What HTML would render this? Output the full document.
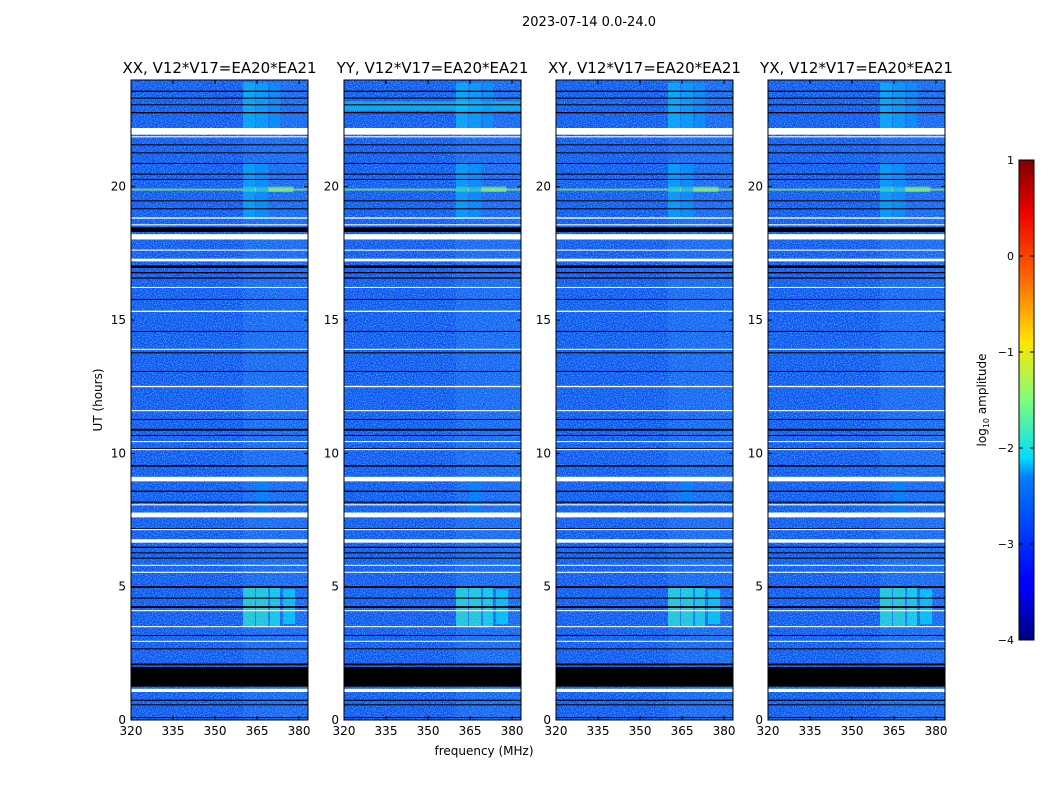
<!DOCTYPE html>
<html><head><meta charset="utf-8"><style>
body{margin:0;background:#fff;font-family:"Liberation Sans","DejaVu Sans",sans-serif}
svg text{font-family:"DejaVu Sans","Liberation Sans",sans-serif}
</style></head><body>
<svg id="fig" width="1050" height="800" xmlns="http://www.w3.org/2000/svg">
<defs>
<filter id="noise" x="0" y="0" width="100%" height="100%">
<feTurbulence type="fractalNoise" baseFrequency="0.9" numOctaves="1" seed="3" result="t"/>
<feColorMatrix in="t" type="matrix" values="0 0 0 0 0.05  0 0 0 0 0.6  0 0 0 0 1  0 0 0 3 -1.3"/>
</filter>
<filter id="noise2" x="0" y="0" width="100%" height="100%">
<feTurbulence type="fractalNoise" baseFrequency="0.8" numOctaves="1" seed="9" result="t"/>
<feColorMatrix in="t" type="matrix" values="0 0 0 0 0  0 0 0 0 0.05  0 0 0 0 0.75  0 0 0 3 -1.4"/>
</filter>
<linearGradient id="jet" x1="0" y1="1" x2="0" y2="0">
<stop offset="0" stop-color="#00007f"/><stop offset="0.11" stop-color="#0000ff"/>
<stop offset="0.125" stop-color="#0000ff"/><stop offset="0.34" stop-color="#0080ff"/>
<stop offset="0.38" stop-color="#00ddff"/><stop offset="0.5" stop-color="#7dff7a"/>
<stop offset="0.62" stop-color="#ffe600"/><stop offset="0.75" stop-color="#ff6a00"/>
<stop offset="0.89" stop-color="#ee0000"/><stop offset="1" stop-color="#7f0000"/>
</linearGradient>
</defs>
<text x="589" y="26" font-size="13" text-anchor="middle">2023-07-14 0.0-24.0</text>
<g id="panels"></g>
<g id="cbar"></g>
</svg>
<script>
const titles=["XX, V12*V17=EA20*EA21","YY, V12*V17=EA20*EA21","XY, V12*V17=EA20*EA21","YX, V12*V17=EA20*EA21"];
const panelLefts=[131,344,556,768];
const xTicks=[320,335,350,365,380];
const yTicks=[0,5,10,15,20];
const freqMin=320, freqMax=383.2, tMin=0, tMax=24;
// flagged (black) rows in hours [start,end]
const blackRows=[[23.55,23.6],[23.3,23.34],[23.05,23.09],[22.75,22.8],[21.55,21.59],[21.25,21.29],[20.85,20.89],[20.45,20.49],[20.25,20.29],[19.45,19.49],[19.15,19.19],[18.3,18.48],[16.95,17.05],[16.75,16.8],[16.55,16.6],[15.75,15.79],[14.55,14.59],[13.75,13.79],[13.05,13.09],[11.25,11.29],[10.85,10.92],[10.65,10.69],[10.15,10.19],[9.5,9.56],[8.55,8.6],[8.15,8.19],[7.15,7.19],[6.45,6.5],[6.25,6.29],[6.05,6.09],[4.95,5.02],[4.55,4.59],[4.2,4.27],[3.15,3.19],[2.65,2.69],[2.05,2.12],[1.95,1.99],[1.25,1.95],[0.72,0.76],[0.55,0.59],[0.08,0.11]];
// white rows in hours [start,end]
const whiteRows=[[21.95,22.2],[21.85,21.89],[18.8,18.85],[18.55,18.59],[18.02,18.22],[17.6,17.64],[17.2,17.3],[16.2,16.24],[15.3,15.35],[13.88,13.92],[12.48,12.53],[11.58,11.62],[10.42,10.46],[10.12,10.16],[8.95,9.12],[8.05,8.09],[7.6,7.78],[7.12,7.16],[6.65,6.78],[5.78,5.82],[5.52,5.56],[4.08,4.12],[3.48,3.52],[2.93,2.97],[1.05,1.17]];
// RFI emission blocks: [tStart,tEnd,fStart,fEnd,log10 amplitude]
const rfiBlocks=[[3.5,5.0,360,364.3,-1.9],[3.5,5.0,364.6,369,-1.9],[3.5,5.0,369.6,373.2,-2.0],[3.6,4.9,374.3,378.6,-2.2],
[19.85,19.93,320,383.2,-1.3],[19.8,20.0,360,378,-1.4],[22.0,23.9,360,364.3,-2.4],[22.0,23.9,364.6,369,-2.5],[22.0,23.9,369.6,373.2,-2.6],
[18.8,20.9,360,364.3,-2.5],[18.8,20.9,364.6,369,-2.6],[7.6,9.0,364.6,369,-2.7]];
// broad elevated band
const bandRange=[360,383.2];
const cbTicks=[1,0,-1,-2,-3,-4];
const cbMin=-4, cbMax=1;

const NS="http://www.w3.org/2000/svg";
const plotTop=80,plotBottom=720,pw=177;
function yScale(t){return plotBottom-(t-tMin)/(tMax-tMin)*(plotBottom-plotTop);}
function jet(v){let s=(v-cbMin)/(cbMax-cbMin);
 const r=Math.max(0,Math.min(1,1.5-Math.abs(4*s-3))),g=Math.max(0,Math.min(1,1.5-Math.abs(4*s-2))),b=Math.max(0,Math.min(1,1.5-Math.abs(4*s-1)));
 return `rgb(${Math.round(r*255)},${Math.round(g*255)},${Math.round(b*255)})`;}
function el(tag,attrs,parent){const e=document.createElementNS(NS,tag);for(const k in attrs)e.setAttribute(k,attrs[k]);parent.appendChild(e);return e;}
const panels=document.getElementById('panels');
panelLefts.forEach((left,pi)=>{
 const xScale=f=>left+(f-freqMin)/(freqMax-freqMin)*pw;
 const g=el('g',{},panels);
 
 
 const bg=el('rect',{x:left,y:plotTop,width:pw,height:plotBottom-plotTop,fill:'#1850f0'},g);
 
 
 el('rect',{x:left,y:plotTop,width:pw,height:plotBottom-plotTop,fill:'#fff',filter:'url(#noise2)'},g);
 el('rect',{x:left,y:plotTop,width:pw,height:plotBottom-plotTop,fill:'#fff',filter:'url(#noise)',opacity:0.85},g);
 const band=el('rect',{x:xScale(bandRange[0]),y:plotTop,width:xScale(bandRange[1])-xScale(bandRange[0]),height:plotBottom-plotTop,fill:'#3aa0ff',opacity:0.2},g);
 
 
 if(pi===1){
  const c=el('rect',{x:left,y:yScale(23.2),width:pw,height:yScale(22.85)-yScale(23.2),fill:'#10b0f0',opacity:0.85},g);
  
  
 }
 rfiBlocks.forEach(b=>{
  let lvl=b[4];
  const r=el('rect',{x:xScale(b[2]),y:yScale(b[1]),width:xScale(b[3])-xScale(b[2]),height:yScale(b[0])-yScale(b[1]),fill:jet(lvl),opacity:0.6},g);
  
  
 });
 blackRows.forEach(b=>{
  const r=el('rect',{x:left,y:yScale(b[1]),width:pw,height:Math.max(1,yScale(b[0])-yScale(b[1])),fill:'#000'},g);
  
  
 });
 whiteRows.forEach(b=>{
  const r=el('rect',{x:left,y:yScale(b[1]),width:pw,height:Math.max(1,yScale(b[0])-yScale(b[1])),fill:'#fff'},g);
  
  
 });
 el('rect',{x:left,y:plotTop,width:pw,height:plotBottom-plotTop,fill:'none',stroke:'#000','stroke-width':1},g);
 const t=el('text',{x:left+pw/2,y:73,'font-size':15,'text-anchor':'middle'},g);t.textContent=titles[pi];
 
 
 xTicks.forEach(f=>{
  const x=xScale(f);
  el('line',{x1:x,x2:x,y1:plotBottom,y2:plotBottom-4,stroke:'#000'},g);
  el('line',{x1:x,x2:x,y1:plotTop,y2:plotTop+4,stroke:'#000'},g);
  const tx=el('text',{x:x,y:plotBottom+15,'font-size':12,'text-anchor':'middle'},g);tx.textContent=f;
  
  
 });
 yTicks.forEach(v=>{
  const y=yScale(v);
  el('line',{x1:left,x2:left+4,y1:y,y2:y,stroke:'#000'},g);
  el('line',{x1:left+pw,x2:left+pw-4,y1:y,y2:y,stroke:'#000'},g);
  const ty=el('text',{x:left-5,y:y+4,'font-size':12,'text-anchor':'end'},g);ty.textContent=v;
  
  
 });
});
const yt=el('text',{x:102,y:400,'font-size':12,'text-anchor':'middle',transform:'rotate(-90 102 400)'},panels);yt.textContent='UT (hours)';


const xt=el('text',{x:484,y:755,'font-size':12,'text-anchor':'middle'},panels);xt.textContent='frequency (MHz)';


// colorbar
const cb=document.getElementById('cbar');
const cbTop=160,cbBot=640,cbX=1019,cbW=15;
const cbs=v=>cbBot-(v-cbMin)/(cbMax-cbMin)*(cbBot-cbTop);
const bar=el('rect',{x:cbX,y:cbTop,width:cbW,height:cbBot-cbTop,fill:'url(#jet)',stroke:'#000'},cb);


cbTicks.forEach(v=>{
 const y=cbs(v);
 el('line',{x1:cbX,x2:cbX+4,y1:y,y2:y,stroke:'#000'},cb);
 el('line',{x1:cbX+cbW,x2:cbX+cbW-4,y1:y,y2:y,stroke:'#000'},cb);
 const t=el('text',{x:cbX-5,y:y+4,'font-size':11,'text-anchor':'end'},cb);t.textContent=(v<0?'\u2212'+(-v):v);
 
 
});
const cl=el('text',{x:986,y:400,'font-size':12,'text-anchor':'middle',transform:'rotate(-90 986 400)'},cb);
cl.innerHTML='log<tspan font-size="8" dy="3">10</tspan><tspan dy="-3"> amplitude</tspan>';


</script>
</body></html>
